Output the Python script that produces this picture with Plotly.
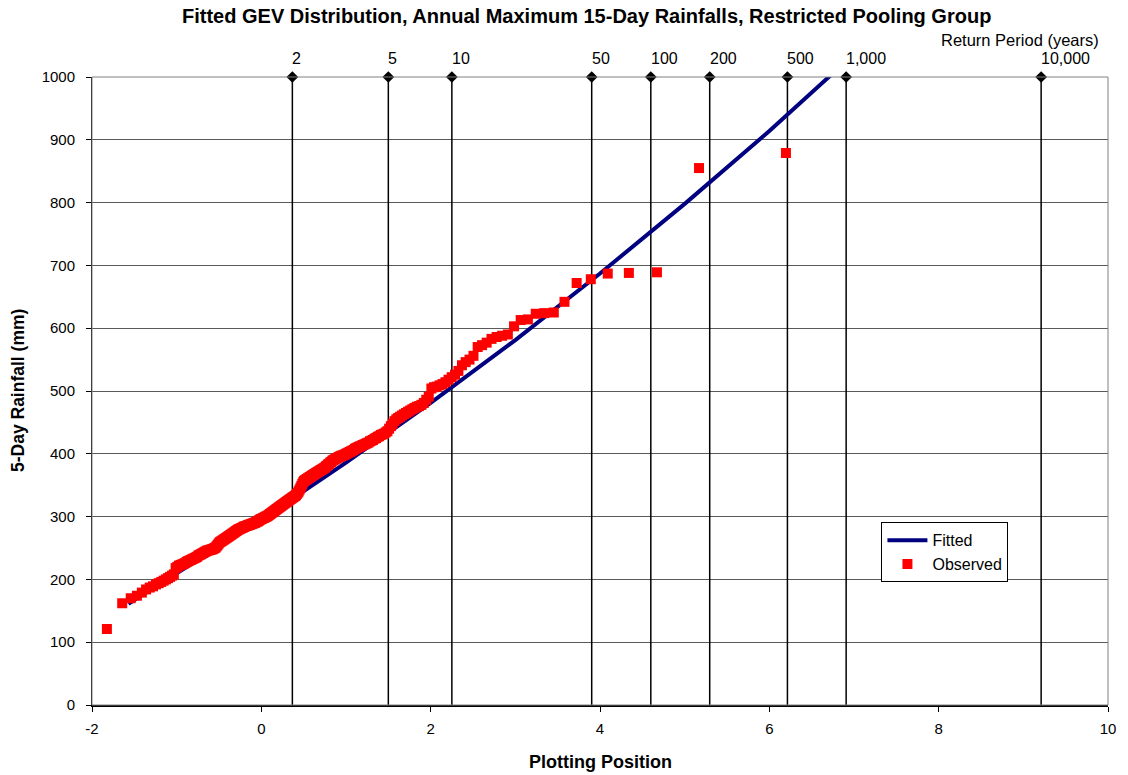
import numpy as np
import plotly.graph_objects as go

# Observed annual maximum rainfalls (mm), sorted ascending
observed_mm = [
    121, 162, 170, 174, 179, 184, 187, 189, 192, 194,
    196, 198, 200, 202, 204, 206, 208, 218, 220, 222,
    223, 224, 225, 226, 228, 229, 230, 231, 232, 233,
    234, 235, 236, 238, 239, 240, 241, 242, 243, 244,
    245, 246, 246, 247, 247, 248, 248, 249, 250, 251,
    253, 255, 257, 259, 260, 261, 262, 263, 264, 265,
    266, 267, 268, 269, 270, 271, 272, 273, 274, 275,
    276, 277, 278, 279, 280, 280, 281, 282, 282, 283,
    284, 284, 285, 285, 286, 286, 287, 287, 288, 288,
    289, 289, 290, 290, 291, 292, 292, 293, 294, 295,
    296, 296, 297, 298, 298, 299, 300, 300, 301, 302,
    303, 304, 305, 306, 307, 308, 309, 310, 311, 312,
    313, 314, 315, 316, 317, 318, 319, 320, 321, 322,
    323, 324, 325, 326, 327, 328, 329, 330, 331, 332,
    333, 334, 336, 338, 340, 343, 346, 349, 352, 355,
    357, 358, 359, 360, 361, 362, 363, 364, 365, 366,
    367, 368, 369, 370, 371, 372, 373, 374, 375, 376,
    377, 378, 380, 381, 383, 384, 386, 387, 389, 390,
    391, 392, 393, 394, 395, 396, 397, 397, 398, 399,
    400, 401, 402, 403, 404, 405, 406, 408, 409, 410,
    411, 412, 413, 414, 415, 416, 417, 418, 420, 421,
    422, 424, 425, 427, 428, 430, 431, 432, 434, 436,
    440, 444, 448, 452, 455, 457, 459, 461, 463, 465,
    467, 469, 471, 473, 475, 476, 478, 481, 486, 491,
    504, 506, 507, 509, 511, 514, 518, 522, 526, 532,
    541, 546, 550, 556, 570, 573, 577, 583, 586, 588,
    590, 603, 613, 614, 623, 624, 625, 642, 672, 678,
    687, 688, 689, 855, 879,
]

# Fitted GEV growth curve, sampled along the plotting-position axis
fitted_x = [-1.57, -1.0, 0.0, 1.0, 2.0, 3.0, 4.0, 5.0, 6.0, 6.8]
fitted_mm = [161, 209, 295, 386, 481, 581, 687, 798, 914, 1012]

# Return periods marked along the top of the chart
return_periods = [2, 5, 10, 50, 100, 200, 500, 1000, 10000]
return_labels = ["2", "5", "10", "50", "100", "200", "500", "1,000", "10,000"]

# Bottom axis tick labels
x_ticks = [-2, 0, 2, 4, 6, 8, 10]
x_tick_text = ["-2", "0", "2", "4", "6", "8", "10"]

# Gringorten plotting positions (Gumbel reduced variate) for ranked data
n = len(observed_mm)
rank = np.arange(1, n + 1)
obs_x = -np.log(-np.log((rank - 0.44) / (n + 0.12)))

# Reduced variate of each return period
rp_x = [-np.log(-np.log(1 - 1 / t)) for t in return_periods]

FONT = "Liberation Sans, Arial, sans-serif"
Y_TOP = 1000

fig = go.Figure()

# Vertical return-period lines
line_x, line_y = [], []
for v in rp_x:
    line_x += [v, v, None]
    line_y += [0, Y_TOP, None]
fig.add_trace(go.Scatter(
    x=line_x, y=line_y, mode="lines",
    line=dict(color="black", width=1.5),
    hoverinfo="skip", showlegend=False,
))

fig.add_trace(go.Scatter(
    x=fitted_x, y=fitted_mm, mode="lines", name="Fitted",
    line=dict(color="#000080", width=4),
))

fig.add_trace(go.Scatter(
    x=obs_x, y=observed_mm, mode="markers", name="Observed",
    marker=dict(symbol="square", color="#FF0000", size=10, line=dict(width=0)),
))

# Diamond markers on the top edge
fig.add_trace(go.Scatter(
    x=rp_x, y=[Y_TOP] * len(rp_x), mode="markers",
    marker=dict(symbol="diamond", color="black", size=9),
    cliponaxis=False, hoverinfo="skip", showlegend=False,
))

annotations = []
for v, lab in zip(rp_x, return_labels):
    annotations.append(dict(
        x=v, y=1.0287, xref="x", yref="paper", text=lab, showarrow=False,
        xanchor="left", yanchor="middle", xshift=-2,
        font=dict(family=FONT, size=16, color="black"),
    ))
annotations += [
    dict(x=0.989, y=1.059, xref="paper", yref="paper",
         text="Return Period (years)", showarrow=False,
         xanchor="right", yanchor="middle", xshift=4,
         font=dict(family=FONT, size=16.5, color="black")),
    dict(x=0.487, y=1.097, xref="paper", yref="paper",
         text="<b>Fitted GEV Distribution, Annual Maximum 15-Day Rainfalls, Restricted Pooling Group</b>",
         showarrow=False, xanchor="center", yanchor="middle",
         font=dict(family=FONT, size=20, color="black")),
    dict(x=0.5, y=-0.0908, xref="paper", yref="paper",
         text="<b>Plotting Position</b>", showarrow=False,
         xanchor="center", yanchor="middle",
         font=dict(family=FONT, size=18, color="black")),
    dict(x=-0.0728, y=0.5, xref="paper", yref="paper",
         text="<b>5-Day Rainfall (mm)</b>", showarrow=False, textangle=-90,
         xanchor="center", yanchor="middle",
         font=dict(family=FONT, size=17.5, color="black")),
]

fig.update_layout(
    width=1128, height=775,
    margin=dict(l=92, r=20, t=77, b=70),
    paper_bgcolor="white", plot_bgcolor="white",
    font=dict(family=FONT, size=15, color="black"),
    annotations=annotations,
    shapes=[dict(type="rect", xref="paper", yref="paper", x0=0, y0=0, x1=1, y1=1,
                 line=dict(color="#808080", width=1), layer="above")],
    legend=dict(
        x=0.777, y=0.291, xanchor="left", yanchor="top",
        bgcolor="white", bordercolor="black", borderwidth=1,
        font=dict(family=FONT, size=16, color="black"),
        tracegroupgap=0, itemwidth=40,
    ),
    xaxis=dict(
        range=[-2, 10], tickvals=x_ticks, ticktext=x_tick_text,
        showgrid=False, zeroline=False,
        ticks="outside", ticklen=5, tickcolor="black", ticklabelstandoff=4,
        showline=True, linecolor="black", linewidth=1.5,
        tickfont=dict(family=FONT, size=15, color="black"),
    ),
    yaxis=dict(
        range=[0, Y_TOP], dtick=100, showgrid=True, gridcolor="#5a5a5a", gridwidth=1,
        zeroline=False, ticks="outside", ticklen=5, tickcolor="black",
        ticklabelstandoff=8,
        showline=True, linecolor="black", linewidth=1,
        tickfont=dict(family=FONT, size=15, color="black"),
    ),
)

fig.write_html("out.html")
